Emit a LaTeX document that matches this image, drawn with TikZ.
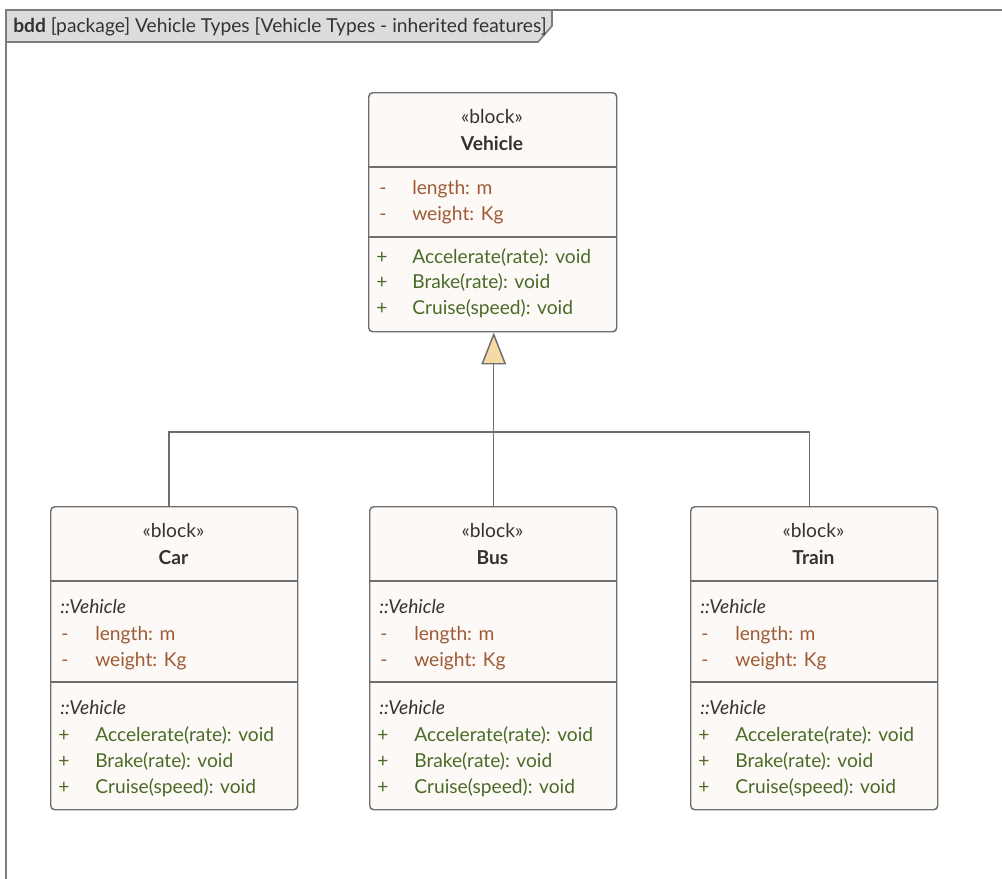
\documentclass[tikz,border=0pt]{standalone}
\usepackage{fontspec}
\setmainfont{Lato}
\usetikzlibrary{arrows.meta,positioning,calc}
\definecolor{edgegray}{HTML}{6E6E6E}
\definecolor{framegray}{HTML}{7C7C7C}
\definecolor{tabfill}{HTML}{DCDCDC}
\definecolor{blockfill}{HTML}{FDF9F6}
\definecolor{attrtext}{HTML}{9E5B36}
\definecolor{optext}{HTML}{4A6B28}
\definecolor{inktext}{HTML}{333333}
\definecolor{genfill}{HTML}{F7D9A5}
\newcommand{\umlfont}{\fontsize{14.4}{17}\selectfont}
\tikzset{
  block/.style={draw=edgegray, fill=blockfill, line width=1.1pt, rounded corners=3pt,
    anchor=north west, inner sep=0pt},
  divider/.style={draw=edgegray, line width=1.1pt},
  stereo/.style={anchor=mid, inner sep=0pt, font=\umlfont, text=inktext},
  blockname/.style={stereo, font=\umlfont\bfseries},
  attr/.style={anchor=mid west, inner sep=0pt, font=\umlfont, text=attrtext},
  oper/.style={attr, text=optext},
  owner/.style={attr, font=\umlfont\itshape, text=inktext},
  conn/.style={draw=edgegray, line width=1.1pt},
  gen/.style={conn, -{Triangle[length=24pt, width=18.5pt, fill=genfill]}}
}
\begin{document}
\begin{tikzpicture}[x=0.75pt, y=-0.75pt]
  \useasboundingbox (0,0) rectangle (1002,878);
  % diagram frame and its heading tab
  \draw[framegray, line width=1.6pt] (6,900) -- (6,10) -- (1020,10);
  \draw[framegray, fill=tabfill, line width=1.2pt]
    (6,10) -- (552,10) -- (552,26) -- (538,42) -- (6,42) -- cycle;
  \node[attr, text=inktext] (heading) at (13,29)
    {\textbf{bdd} [package] Vehicle Types [Vehicle Types - inherited features]};

  % parent block
  \node[block, minimum width=186pt, minimum height=179.25pt] (vehicle) at (368,92) {};
  \draw[divider] (368,167) -- (616,167);
  \draw[divider] (368,237) -- (616,237);
  \node[stereo] (vst) at (492,120) {«block»};
  \node[blockname] (vname) at (492,147) {Vehicle};
  \node[attr] (vam1) at (379,191) {-};
  \node[attr] (va1) at (412,191) {length: m};
  \node[attr] (vam2) at (379,217) {-};
  \node[attr] (va2) at (412,217) {weight: Kg};
  \node[oper] (vop1) at (376,260) {+};
  \node[oper] (vo1) at (412,260) {Accelerate(rate): void};
  \node[oper] (vop2) at (376,285) {+};
  \node[oper] (vo2) at (412,285) {Brake(rate): void};
  \node[oper] (vop3) at (376,311) {+};
  \node[oper] (vo3) at (412,311) {Cruise(speed): void};

  % child blocks
  \foreach \name/\xl/\title in {car/50/Car, bus/369/Bus, train/690/Train} {
    \node[block, minimum width=185.25pt, minimum height=227.25pt] (\name) at (\xl,506) {};
    \draw[divider] (\xl,581) -- ({\xl+247},581);
    \draw[divider] (\xl,682) -- ({\xl+247},682);
    \node[stereo] (\name st) at ({\xl+123.5},534) {«block»};
    \node[blockname] (\name title) at ({\xl+123.5},561) {\title};
    \node[owner] (\name own1) at ({\xl+10},610) {::Vehicle};
    \node[attr] (\name am1) at ({\xl+11},637) {-};
    \node[attr] (\name a1) at ({\xl+45},637) {length: m};
    \node[attr] (\name am2) at ({\xl+11},663) {-};
    \node[attr] (\name a2) at ({\xl+45},663) {weight: Kg};
    \node[owner] (\name own2) at ({\xl+10},711) {::Vehicle};
    \node[oper] (\name op1) at ({\xl+8},738) {+};
    \node[oper] (\name o1) at ({\xl+45},738) {Accelerate(rate): void};
    \node[oper] (\name op2) at ({\xl+8},764) {+};
    \node[oper] (\name o2) at ({\xl+45},764) {Brake(rate): void};
    \node[oper] (\name op3) at ({\xl+8},790) {+};
    \node[oper] (\name o3) at ({\xl+45},790) {Cruise(speed): void};
  }

  % generalization
  \coordinate (hub) at ($(bus.north)+(0.5,-74)$);
  \draw[conn] ([xshift=0.375pt]bus.north) -- (hub);
  \draw[gen] (hub) -- (hub |- vehicle.south);
  \draw[conn] ([xshift=-4.1pt]car.north) |- (hub);
  \draw[conn] ([xshift=-3.4pt]train.north) |- (hub);
\end{tikzpicture}
\end{document}
